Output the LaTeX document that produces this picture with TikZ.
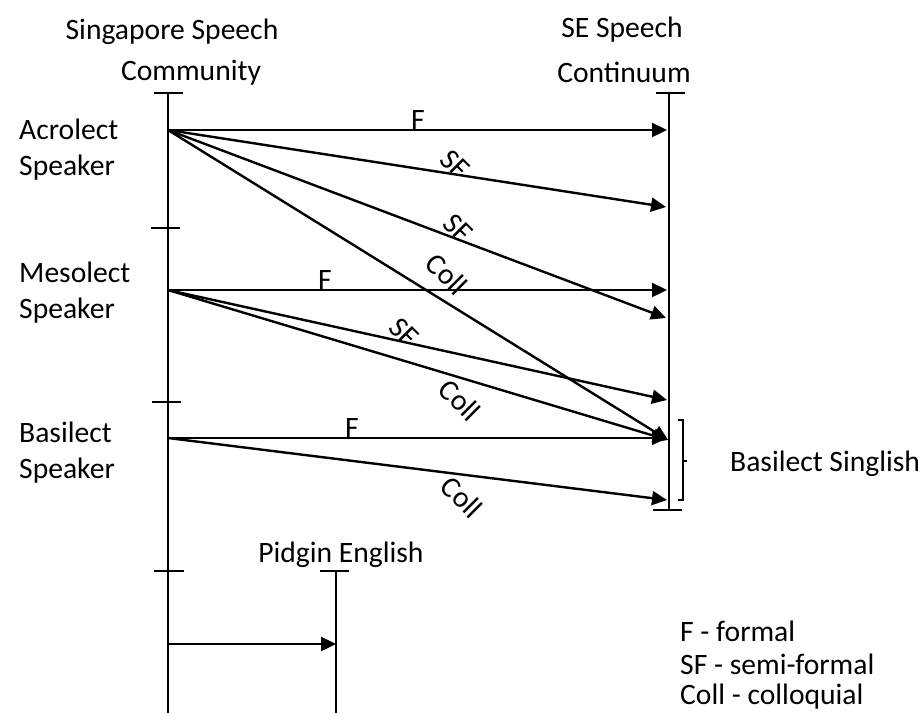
\documentclass[tikz,border=0pt]{standalone}
\usepackage{fontspec}
\setmainfont{Carlito}
\usetikzlibrary{arrows.meta}
\begin{document}
\begin{tikzpicture}[x=0.5pt,y=-0.5pt,
  font=\fontsize{14.8}{18}\selectfont,
  line width=1.2pt,
  arr/.style={-{Triangle[length=7.5pt,width=7pt]}},
  lab/.style={inner sep=0pt, rotate=-45},
  flab/.style={inner sep=0pt, anchor=south},
  txt/.style={inner sep=0pt},
  ltxt/.style={inner sep=0pt, anchor=west, align=left}]
\useasboundingbox (0,0) rectangle (918,713);

% headings
\node[txt] (sing) at (172,32) {Singapore Speech};
\node[txt] (comm) at (191,73) {Community};
\node[txt] (se) at (622,30) {SE Speech};
\node[txt] (cont) at (624,72) {Continuum};

\node[ltxt] (acro) at (18,150) {Acrolect\\Speaker};
\node[ltxt] (meso) at (18,293) {Mesolect\\Speaker};
\node[ltxt] (basi) at (18,453) {Basilect\\Speaker};

% vertical axes
\coordinate (Ltop) at (168,93);
\coordinate (Lbot) at (168,713);
\coordinate (Rtop) at (669,93);
\coordinate (Rbot) at (669,510);
\coordinate (Ptop) at (336,571);
\coordinate (Pbot) at (336,713);
\draw (Ltop) -- (Lbot);
\draw (Rtop) -- (Rbot);
\draw (Ptop) -- (Pbot);

% ticks
\draw (154,93) -- (183,93);
\draw (151,228) -- (180,228);
\draw (152,402) -- (181,402);
\draw (154,571) -- (184,571);
\draw (656,93) -- (685,93);
\draw (653,510) -- (682,510);
\draw (320,571) -- (349,571);

% sources
\coordinate (A) at (168,130);
\coordinate (M) at (168,290);
\coordinate (B) at (168,438);
\coordinate (P) at (168,644);
% targets
\coordinate (tAF) at (667,130);
\coordinate (tAS) at (666,207);
\coordinate (tAS2) at (666,318);
\coordinate (tC) at (668,440);
\coordinate (tMF) at (667,290);
\coordinate (tMS) at (667,400);
\coordinate (tBF) at (667,438);
\coordinate (tBC) at (667,500);
\coordinate (tP) at (336,644);

\draw[arr] (A) -- (tAF);
\draw[arr] (A) -- (tAS);
\draw[arr] (A) -- (tAS2);
\draw[arr] (A) -- (tC);
\draw[arr] (M) -- (tMF);
\draw[arr] (M) -- (tMS);
\draw[arr] (M) -- (tC);
\draw[arr] (B) -- (tBF);
\draw[arr] (B) -- (tBC);
\draw[arr] (P) -- (tP);

% labels
\node[flab] (lAF) at (418,131) {F};
\node[lab] (lAS) at (455,164) {SF};
\node[lab] (lAS2) at (458,228) {SF};
\node[lab] (lAC) at (447,274) {Coll};
\node[flab] (lMF) at (325,291) {F};
\node[lab] (lMS) at (404,332) {SF};
\node[lab] (lMC) at (460,400) {Coll};
\node[flab] (lBF) at (352,439) {F};
\node[lab] (lBC) at (462,497) {Coll};

% bracket
\draw (678,420) -- (683,420) -- (683,500) -- (678,500);
\draw (683,461) -- (687,461);
\node[ltxt] (bs) at (729,464) {Basilect Singlish};

% pidgin
\node[txt] (pid) at (341,555) {Pidgin English};

% legend
\node[ltxt] (l1) at (679,631) {F - formal};
\node[ltxt] (l2) at (679,664) {SF - semi-formal};
\node[ltxt] (l3) at (679,697) {Coll - colloquial};
\end{tikzpicture}
\end{document}
